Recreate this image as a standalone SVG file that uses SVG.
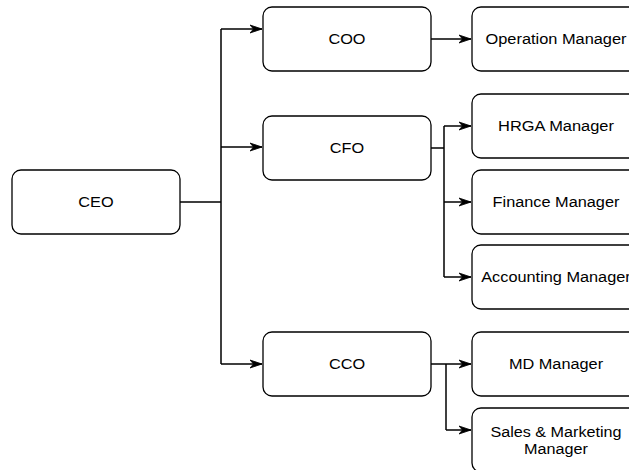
<svg xmlns="http://www.w3.org/2000/svg" width="629" height="470" viewBox="0 0 629 470">
<style>
.box{fill:#ffffff;stroke:#000000;stroke-width:1.3}
.lbl{font-family:"Liberation Sans",Arial,sans-serif;font-size:14px;fill:#000000;text-anchor:middle}
.ln{fill:none;stroke:#000000;stroke-width:1.5}
.ar{fill:none;stroke:#000000;stroke-width:1.5;marker-end:url(#arr)}
</style>
<defs>
<marker id="arr" markerUnits="userSpaceOnUse" markerWidth="14" markerHeight="10" refX="12" refY="5" orient="auto" viewBox="0 0 14 10">
<path d="M0,1 L12,5 L0,9 L3.5,5 Z" fill="#000000" stroke="#000000" stroke-width="0.8"/>
</marker>
</defs>
<rect width="629" height="470" fill="#ffffff"/>
<g id="connectors">
<path class="ln" d="M180,202 H221 M221,29 V364"/>
<path class="ar" d="M221,29 H262"/>
<path class="ar" d="M221,147 H262"/>
<path class="ar" d="M221,364 H262"/>
<path class="ar" d="M431,39 H471"/>
<path class="ln" d="M431,148 H444 M444,126 V277"/>
<path class="ar" d="M444,126 H471"/>
<path class="ar" d="M444,202 H471"/>
<path class="ar" d="M444,277 H471"/>
<path class="ar" d="M431,364 H471"/>
<path class="ln" d="M446,364 V430"/>
<path class="ar" d="M446,430 H471"/>
</g>
<g id="ceo"><rect class="box" x="12" y="170" width="168" height="64" rx="9"/><text class="lbl" x="96" y="207" textLength="35.3" lengthAdjust="spacingAndGlyphs">CEO</text></g>
<g id="coo"><rect class="box" x="263" y="7" width="168" height="64" rx="9"/><text class="lbl" x="347" y="44" textLength="37.1" lengthAdjust="spacingAndGlyphs">COO</text></g>
<g id="cfo"><rect class="box" x="263" y="116" width="168" height="64" rx="9"/><text class="lbl" x="347" y="153" textLength="34.4" lengthAdjust="spacingAndGlyphs">CFO</text></g>
<g id="cco"><rect class="box" x="263" y="332" width="168" height="64" rx="9"/><text class="lbl" x="347" y="369" textLength="36.2" lengthAdjust="spacingAndGlyphs">CCO</text></g>
<g id="operation-manager"><rect class="box" x="472" y="7" width="168" height="64" rx="9"/><text class="lbl" x="556" y="44" textLength="141" lengthAdjust="spacingAndGlyphs">Operation Manager</text></g>
<g id="hrga-manager"><rect class="box" x="472" y="94" width="168" height="64" rx="9"/><text class="lbl" x="556" y="131" textLength="115.9" lengthAdjust="spacingAndGlyphs">HRGA Manager</text></g>
<g id="finance-manager"><rect class="box" x="472" y="170" width="168" height="64" rx="9"/><text class="lbl" x="556" y="207" textLength="126.8" lengthAdjust="spacingAndGlyphs">Finance Manager</text></g>
<g id="accounting-manager"><rect class="box" x="472" y="245" width="168" height="64" rx="9"/><text class="lbl" x="556" y="282" textLength="149.5" lengthAdjust="spacingAndGlyphs">Accounting Manager</text></g>
<g id="md-manager"><rect class="box" x="472" y="332" width="168" height="64" rx="9"/><text class="lbl" x="556" y="369" textLength="94.2" lengthAdjust="spacingAndGlyphs">MD Manager</text></g>
<g id="sales-marketing-manager"><rect class="box" x="472" y="408" width="168" height="64" rx="9"/><text class="lbl" x="556" y="437" textLength="131" lengthAdjust="spacingAndGlyphs">Sales &amp; Marketing</text><text class="lbl" x="556" y="454" textLength="63.9" lengthAdjust="spacingAndGlyphs">Manager</text></g>
</svg>
